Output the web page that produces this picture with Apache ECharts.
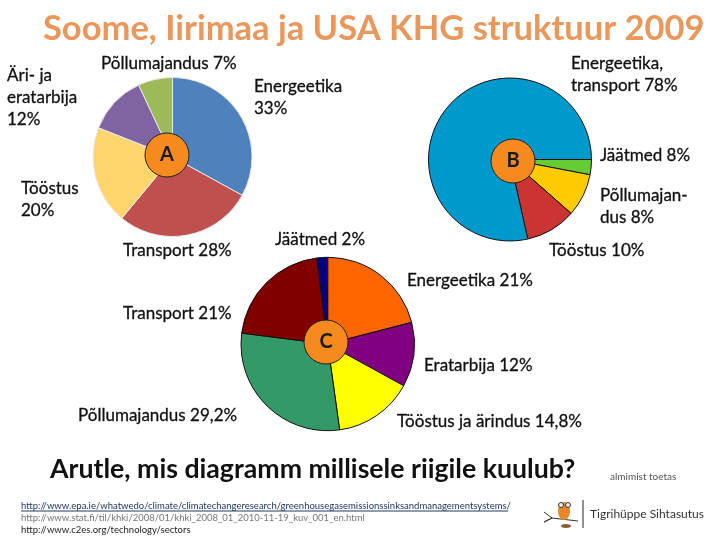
<!DOCTYPE html>
<html>
<head>
<meta charset="utf-8">
<script src="https://cdn.jsdelivr.net/npm/echarts@6/dist/echarts.min.js"></script>
<style>
    html, body { margin: 0; padding: 0; background: #fff; }
    #chart { width: 720px; height: 540px; }
</style>
</head>
<body>
<div id="chart"></div>
<script>
    // pie A
    var namesA = ['Energeetika', 'Transport', 'Tööstus', 'Äri- ja eratarbija', 'Põllumajandus'];
    var valuesA = [33, 28, 20, 12, 7];
    var colorsA = ['#4F81BD', '#C0504D', '#FFD56E', '#8064A2', '#9BBB59'];

    // pie B, slices are drawn as they look in the picture (green is thinner than its label says)
    var namesB = ['Jäätmed', 'Põllumajandus', 'Tööstus', 'Energeetika, transport'];
    var valuesB = [3, 8.5, 10, 78.5];
    var colorsB = ['#66CC33', '#FFCC00', '#CC3333', '#0099CC'];

    // pie C
    var namesC = ['Energeetika', 'Eratarbija', 'Tööstus ja ärindus', 'Põllumajandus', 'Transport', 'Jäätmed'];
    var valuesC = [21, 12, 14.8, 29.2, 21, 2];
    var colorsC = ['#FF6600', '#800080', '#FFFF00', '#339966', '#800000', '#000080'];

    var titleText = 'Soome, Iirimaa ja USA KHG struktuur 2009';
    var questionText = 'Arutle, mis diagramm millisele riigile kuulub?';

    var labels = [
        ['Äri- ja\neratarbija\n12%', 7, 65],
        ['Põllumajandus 7%', 101, 53],
        ['Energeetika\n33%', 254, 76],
        ['Tööstus\n20%', 21, 178],
        ['Transport 28%', 123, 240],
        ['Energeetika,\ntransport 78%', 571, 53],
        ['Jäätmed 8%', 600, 145],
        ['Põllumajan-\ndus 8%', 600, 185],
        ['Tööstus 10%', 549, 240],
        ['Jäätmed 2%', 275, 229],
        ['Energeetika 21%', 407, 270],
        ['Transport 21%', 123, 303],
        ['Eratarbija 12%', 424, 355],
        ['Põllumajandus 29,2%', 78, 405],
        ['Tööstus ja ärindus 14,8%', 397, 411]
    ];

    var sources = [
        ['http://www.epa.ie/whatwedo/climate/climatechangeresearch/greenhousegasemissionssinksandmanagementsystems/', '#1F3864', 501],
        ['http://www.stat.fi/til/khki/2008/01/khki_2008_01_2010-11-19_kuv_001_en.html', '#777777', 513],
        ['http://www.c2es.org/technology/sectors', '#222222', 525]
    ];

    var fontName = 'Lato';
    var chart = echarts.init(document.getElementById('chart'));

    function makePie(names, values, colors, center, radius, startAngle, borderColor) {
        return {
            type: 'pie',
            center: center,
            radius: radius,
            startAngle: startAngle,
            clockwise: true,
            animation: false,
            silent: true,
            label: { show: false },
            labelLine: { show: false },
            itemStyle: { borderColor: borderColor, borderWidth: 1 },
            data: values.map(function (v, i) {
                return { name: names[i], value: v, itemStyle: { color: colors[i] } };
            })
        };
    }

    // orange circle with the letter in the middle of each pie
    function makeHub(letter, center) {
        return {
            type: 'pie',
            center: center,
            radius: 22,
            animation: false,
            silent: true,
            z: 5,
            labelLine: { show: false },
            label: {
                show: true,
                position: 'center',
                formatter: letter,
                fontFamily: fontName,
                fontWeight: 'bold',
                fontSize: 20,
                color: '#1a1a1a'
            },
            itemStyle: { color: '#F58A1F', borderColor: '#222', borderWidth: 1 },
            data: [{ name: letter, value: 1 }]
        };
    }

    var graphics = [];
    labels.forEach(function (l) {
        graphics.push({
            type: 'text', x: l[1], y: l[2], silent: true,
            style: { text: l[0], fontFamily: fontName, fontSize: 17, lineHeight: 22, fill: '#111', stroke: '#111', lineWidth: 0.3 }
        });
    });
    sources.forEach(function (s) {
        graphics.push({
            type: 'text', x: 21, y: s[2], silent: true,
            style: { text: s[0], fontFamily: fontName, fontSize: 9.5, fill: s[1] }
        });
    });
    graphics.push({ type: 'line', silent: true, shape: { x1: 21, y1: 511, x2: 508, y2: 511 }, style: { stroke: '#1F3864', lineWidth: 1 } });
    graphics.push({ type: 'text', x: 610, y: 472, silent: true, style: { text: 'almimist toetas', fontFamily: fontName, fontSize: 10, fill: '#555' } });
    graphics.push({ type: 'text', x: 590, y: 508, silent: true, style: { text: 'Tigrihüppe Sihtasutus', fontFamily: fontName, fontSize: 12, fill: '#333' } });
    graphics.push({ type: 'line', silent: true, shape: { x1: 583, y1: 500, x2: 583, y2: 528 }, style: { stroke: '#222', lineWidth: 1 } });
    // owl logo
    graphics.push({ type: 'polyline', silent: true, shape: { points: [[544, 512], [552, 518], [544, 522], [552, 518], [578, 521]] }, style: { stroke: '#333', fill: null, lineWidth: 1 } });
    graphics.push({ type: 'ellipse', silent: true, shape: { cx: 564, cy: 511, rx: 6, ry: 9 }, style: { fill: '#E8862A' } });
    graphics.push({ type: 'ellipse', silent: true, shape: { cx: 566, cy: 526, rx: 5, ry: 2 }, style: { fill: '#8A5A30' } });
    graphics.push({ type: 'circle', silent: true, shape: { cx: 561, cy: 505, r: 2.5 }, style: { fill: '#EEE', stroke: '#333' } });
    graphics.push({ type: 'circle', silent: true, shape: { cx: 568, cy: 505, r: 2.5 }, style: { fill: '#EEE', stroke: '#333' } });

    var option = {
        backgroundColor: '#fff',
        title: [
            { text: titleText, left: 43, top: 11, padding: 0, textStyle: { fontFamily: fontName, fontSize: 34.5, fontWeight: 'bold', color: '#E9975B' } },
            { text: questionText, left: 50, top: 456, padding: 0, textStyle: { fontFamily: fontName, fontSize: 26.7, fontWeight: 'bold', color: '#111' } }
        ],
        series: [
            makePie(namesA, valuesA, colorsA, [172.5, 157], 79.5, 90, '#e8e8e8'),
            makeHub('A', [167, 155]),
            makePie(namesB, valuesB, colorsB, [510, 159.5], 81.5, 0, '#111'),
            makeHub('B', [513, 161]),
            makePie(namesC, valuesC, colorsC, [327.7, 344], 86.7, 90, '#111'),
            makeHub('C', [326, 342])
        ],
        graphic: graphics
    };

    chart.setOption(option);
</script>
</body>
</html>
